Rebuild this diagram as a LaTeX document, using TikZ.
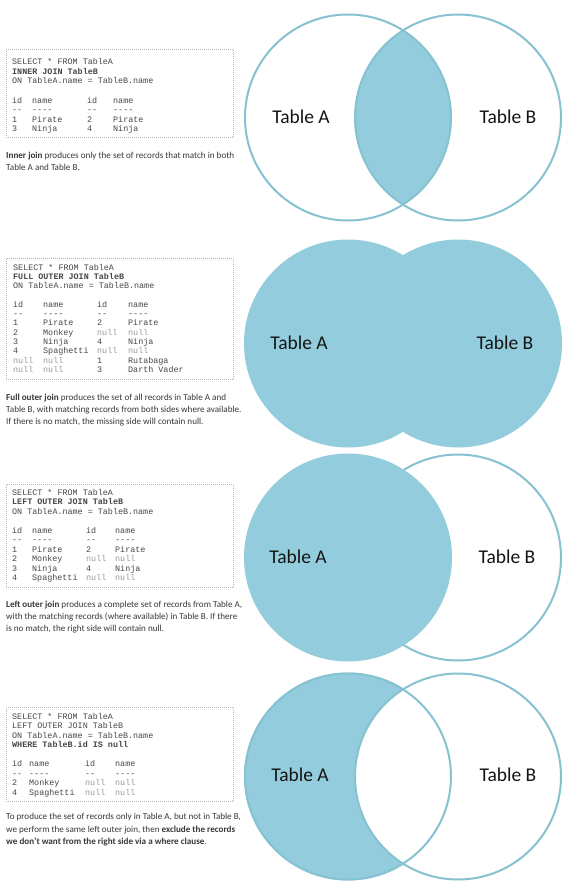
\documentclass[tikz,border=0pt]{standalone}
\usepackage{fontspec}
\setmainfont{Carlito}
\newfontfamily\codefont{Liberation Mono}
\definecolor{vennfill}{HTML}{93CDDD}
\definecolor{vennline}{HTML}{86C2D1}
\definecolor{codegray}{HTML}{474747}
\definecolor{nullgray}{HTML}{9A9A9A}
\definecolor{descgray}{HTML}{383838}
\definecolor{boxgray}{HTML}{B4B4B4}
\newcommand\jrow[7]{\makebox[#1pt][l]{#4}\makebox[#2pt][l]{#5}\makebox[#3pt][l]{#6}#7}
\newcommand\nul{\textcolor{nullgray}{null}}
\tikzset{
  disk/.style={circle, fill=vennfill, minimum size=208pt, inner sep=0pt},
  ringc/.style={circle, draw=vennline, line width=2pt, minimum size=206pt, inner sep=0pt},
  ringline/.style={draw=vennline, line width=2pt},
  lbl/.style={font=\fontsize{19.5}{22}\selectfont, text=black!92, inner sep=0pt},
  code/.style={font=\codefont\fontsize{8.4}{9.5}\selectfont, text=codegray, anchor=base west, inner sep=0pt},
  desc/.style={font=\fontsize{9.1}{11}\selectfont, text=descgray, anchor=base west, inner sep=0pt},
  codebox/.style={draw=boxgray, dash pattern=on 0.7pt off 1.3pt, line width=0.7pt, anchor=north west, inner sep=0pt, minimum width=227pt},
}
\begin{document}
\begin{tikzpicture}[x=1pt, y=-1pt]
\useasboundingbox (0,0) rectangle (575,888);
\fill[white] (0,0) rectangle (575,888);

% ---------- Panel 1: inner join ----------
\coordinate (a1) at (348,117.5);
\coordinate (b1) at (458,117.5);
\begin{scope}
  \clip (a1) circle[radius=103pt];
  \fill[vennfill] (b1) circle[radius=103pt];
\end{scope}
\node[ringc] (A1) at (a1) {};
\node[ringc] (B1) at (b1) {};
\node[lbl] (ta1) at (301,117) {Table A};
\node[lbl] (tb1) at (508,117) {Table B};

\node[codebox, minimum height=88pt] (box1) at (6,49) {};
\node[code] (c1a) at (12,65) {SELECT * FROM TableA};
\node[code] (c1b) at (12,74.5) {\textbf{INNER JOIN TableB}};
\node[code] (c1c) at (12,84) {ON TableA.name = TableB.name};
\node[code] (c1d) at (12,103) {\jrow{20}{55}{26}{id}{name}{id}{name}};
\node[code] (c1e) at (12,112.5) {\jrow{20}{55}{26}{--}{----}{--}{----}};
\node[code] (c1f) at (12,122) {\jrow{20}{55}{26}{1}{Pirate}{2}{Pirate}};
\node[code] (c1g) at (12,131.5) {\jrow{20}{55}{26}{3}{Ninja}{4}{Ninja}};
\node[desc] (d1a) at (6,158.5) {\textbf{Inner join} produces only the set of records that match in both};
\node[desc] (d1b) at (6,170.5) {Table A and Table B.};

% ---------- Panel 2: full outer join ----------
\node[disk] (A2) at (348,343.5) {};
\node[disk] (B2) at (458,343.5) {};
\node[lbl] (ta2) at (299,343) {Table A};
\node[lbl] (tb2) at (505,343) {Table B};

\node[codebox, minimum height=121pt] (box2) at (6,258) {};
\node[code] (c2a) at (13,270) {SELECT * FROM TableA};
\node[code] (c2b) at (13,279.3) {\textbf{FULL OUTER JOIN TableB}};
\node[code] (c2c) at (13,288.6) {ON TableA.name = TableB.name};
\node[code] (c2d) at (13,307.2) {\jrow{30}{54}{31}{id}{name}{id}{name}};
\node[code] (c2e) at (13,316.5) {\jrow{30}{54}{31}{--}{----}{--}{----}};
\node[code] (c2f) at (13,325.8) {\jrow{30}{54}{31}{1}{Pirate}{2}{Pirate}};
\node[code] (c2g) at (13,335.1) {\jrow{30}{54}{31}{2}{Monkey}{\nul}{\nul}};
\node[code] (c2h) at (13,344.4) {\jrow{30}{54}{31}{3}{Ninja}{4}{Ninja}};
\node[code] (c2i) at (13,353.7) {\jrow{30}{54}{31}{4}{Spaghetti}{\nul}{\nul}};
\node[code] (c2j) at (13,363) {\jrow{30}{54}{31}{\nul}{\nul}{1}{Rutabaga}};
\node[code] (c2k) at (13,372.3) {\jrow{30}{54}{31}{\nul}{\nul}{3}{Darth Vader}};
\node[desc] (d2a) at (6,400.5) {\textbf{Full outer join} produces the set of all records in Table A and};
\node[desc] (d2b) at (6,412.5) {Table B, with matching records from both sides where available.};
\node[desc] (d2c) at (6,424.5) {If there is no match, the missing side will contain null.};

% ---------- Panel 3: left outer join ----------
\node[ringc] (B3) at (458,557.5) {};
\node[disk] (A3) at (348,557.5) {};
\node[lbl] (ta3) at (298,557) {Table A};
\node[lbl] (tb3) at (507,557) {Table B};

\node[codebox, minimum height=103pt] (box3) at (6,484) {};
\node[code] (c3a) at (12,495) {SELECT * FROM TableA};
\node[code] (c3b) at (12,504.5) {\textbf{LEFT OUTER JOIN TableB}};
\node[code] (c3c) at (12,514) {ON TableA.name = TableB.name};
\node[code] (c3d) at (12,533) {\jrow{20}{54}{29}{id}{name}{id}{name}};
\node[code] (c3e) at (12,542.5) {\jrow{20}{54}{29}{--}{----}{--}{----}};
\node[code] (c3f) at (12,552) {\jrow{20}{54}{29}{1}{Pirate}{2}{Pirate}};
\node[code] (c3g) at (12,561.5) {\jrow{20}{54}{29}{2}{Monkey}{\nul}{\nul}};
\node[code] (c3h) at (12,571) {\jrow{20}{54}{29}{3}{Ninja}{4}{Ninja}};
\node[code] (c3i) at (12,580.5) {\jrow{20}{54}{29}{4}{Spaghetti}{\nul}{\nul}};
\node[desc] (d3a) at (6,607.5) {\textbf{Left outer join} produces a complete set of records from Table A,};
\node[desc] (d3b) at (6,619.5) {with the matching records (where available) in Table B. If there};
\node[desc] (d3c) at (6,631.5) {is no match, the right side will contain null.};

% ---------- Panel 4: left excluding join ----------
\node[disk] (A4) at (348,776.5) {};
\node[ringc, fill=white] (B4) at (458,776.5) {};
\draw[ringline] (A4.center) circle[radius=103pt];
\node[lbl] (ta4) at (300,775) {Table A};
\node[lbl] (tb4) at (508,775) {Table B};

\node[codebox, minimum height=94pt] (box4) at (6,707) {};
\node[code] (c4a) at (12,719) {SELECT * FROM TableA};
\node[code] (c4b) at (12,728.5) {LEFT OUTER JOIN TableB};
\node[code] (c4c) at (12,738) {ON TableA.name = TableB.name};
\node[code] (c4d) at (12,747.5) {\textbf{WHERE TableB.id IS null}};
\node[code] (c4e) at (12,766.5) {\jrow{17}{56}{30}{id}{name}{id}{name}};
\node[code] (c4f) at (12,776) {\jrow{17}{56}{30}{--}{----}{--}{----}};
\node[code] (c4g) at (12,785.5) {\jrow{17}{56}{30}{2}{Monkey}{\nul}{\nul}};
\node[code] (c4h) at (12,795) {\jrow{17}{56}{30}{4}{Spaghetti}{\nul}{\nul}};
\node[desc] (d4a) at (6,819.5) {To produce the set of records only in Table A, but not in Table B,};
\node[desc] (d4b) at (6,832) {we perform the same left outer join, then \textbf{exclude the records}};
\node[desc] (d4c) at (6,844.5) {\textbf{we don't want from the right side via a where clause}.};
\end{tikzpicture}
\end{document}
